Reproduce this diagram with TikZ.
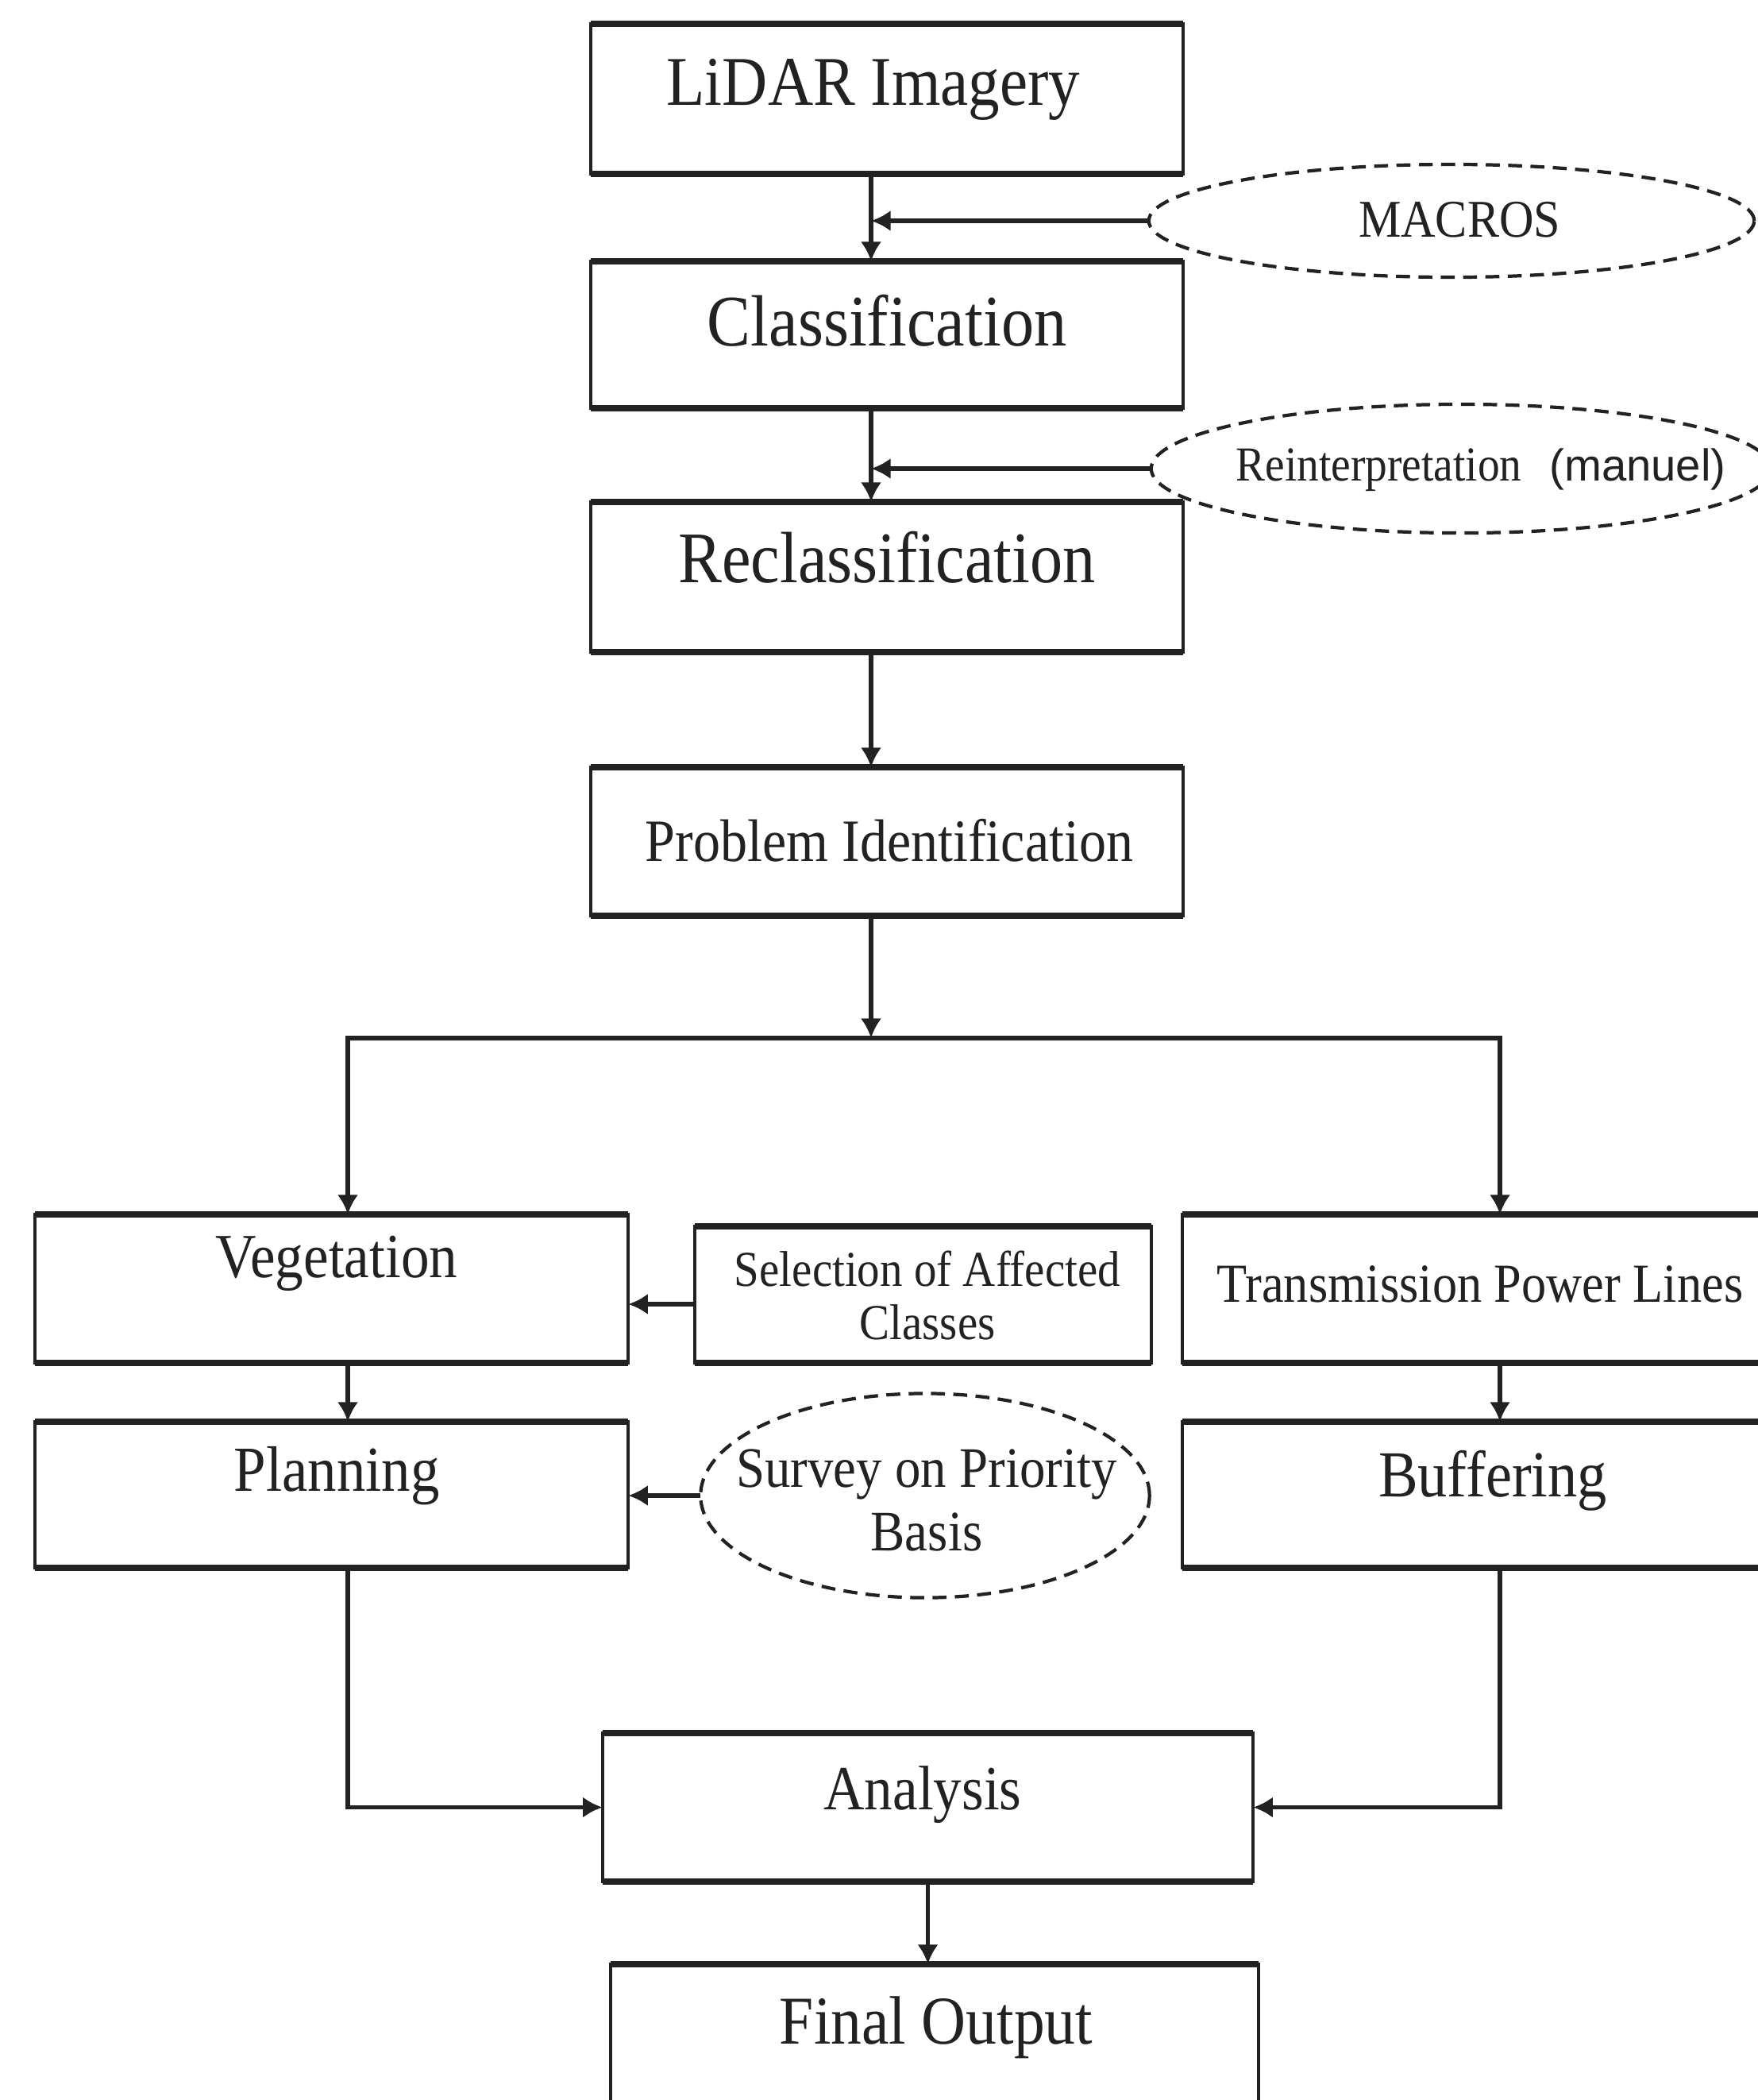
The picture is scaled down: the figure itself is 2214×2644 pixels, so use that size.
\documentclass[tikz,border=0pt]{standalone}
\usepackage{fontspec}
\setmainfont{Liberation Serif}[FakeStretch=0.9]
\newfontfamily\sansf{Liberation Sans}
\usetikzlibrary{arrows.meta,shapes.geometric,calc}
\definecolor{ink}{HTML}{222222}
\begin{document}
\begin{tikzpicture}[x=0.01cm,y=-0.01cm,
  box/.style={draw=ink, line width=1.1pt, rectangle, inner sep=0pt, outer sep=0pt},
  oval/.style={draw=ink, ellipse, line width=1.2pt, dash pattern=on 5pt off 3pt, inner sep=0pt, outer sep=0pt},
  txt/.style={text=ink, inner sep=0pt, anchor=base},
  conn/.style={draw=ink, line width=1.5pt},
  arr/.style={conn, -{Latex[length=7pt,width=7.5pt]}},
]
\fill[white] (0,0) rectangle (2214,2644);
\useasboundingbox (0,0) rectangle (2214,2644);

% boxes
\node[box, minimum width=7.46cm, minimum height=1.89cm] (lidar) at (1117,124.5) {};
\node[box, minimum width=7.46cm, minimum height=1.85cm] (classif) at (1117,421.5) {};
\node[box, minimum width=7.46cm, minimum height=1.89cm] (reclass) at (1117,726.5) {};
\node[box, minimum width=7.46cm, minimum height=1.87cm] (probid) at (1117,1059.5) {};
\node[box, minimum width=7.47cm, minimum height=1.87cm] (veg) at (417.5,1622.5) {};
\node[box, minimum width=5.75cm, minimum height=1.72cm] (sel) at (1162.5,1630) {};
\node[box, minimum width=8.11cm, minimum height=1.87cm] (trans) at (1894.5,1622.5) {};
\node[box, minimum width=7.47cm, minimum height=1.84cm] (plan) at (417.5,1882) {};
\node[box, minimum width=8.11cm, minimum height=1.84cm] (buff) at (1894.5,1882) {};
\node[box, minimum width=8.19cm, minimum height=1.87cm] (anal) at (1168.5,2275.5) {};
\node[box, minimum width=8.16cm, minimum height=2.27cm] (final) at (1177,2586.5) {};
\foreach \n in {lidar,classif,reclass,probid,veg,sel,trans,plan,buff,anal,final}
  \draw[ink, line width=2.1pt] (\n.north west) -- (\n.north east) (\n.south west) -- (\n.south east);

% dashed ellipses
\node[oval, minimum width=7.62cm, minimum height=1.42cm] (macros) at (1828,278) {};
\node[oval, minimum width=7.8cm, minimum height=1.62cm] (reint) at (1840,590) {};
\node[oval, minimum width=5.65cm, minimum height=2.57cm] (survey) at (1165,1883) {};

% texts
\node[txt, font=\fontsize{25}{30}\selectfont] (tLidar) at (1100,132) {LiDAR Imagery};
\node[txt, font=\fontsize{26}{31}\selectfont] (tClass) at (1117,435) {Classification};
\node[txt, font=\fontsize{26}{31}\selectfont] (tReclass) at (1117,733) {Reclassification};
\node[txt, font=\fontsize{21.5}{26}\selectfont] (tProb) at (1120,1084) {Problem Identification};
\node[txt, font=\fontsize{19}{23}\selectfont] (tMacros) at (1838,298) {MACROS};
\node[txt, font=\fontsize{17.5}{21}\selectfont] (tReint) at (1865,605) {Reinterpretation\hspace{10pt}{\sansf\fontsize{16}{19}\selectfont(manuel)}};
\node[txt, font=\fontsize{22.5}{27}\selectfont] (tVeg) at (424,1608) {Vegetation};
\node[txt, font=\fontsize{18}{19.3}\selectfont, align=center, anchor=center] (tSel) at (1168,1631) {Selection of Affected\\Classes};
\node[txt, font=\fontsize{19.7}{24}\selectfont] (tTrans) at (1864,1639) {Transmission Power Lines};
\node[txt, font=\fontsize{23}{28}\selectfont] (tPlan) at (424,1877) {Planning};
\node[txt, font=\fontsize{20.5}{22.8}\selectfont, align=center, anchor=center] (tSurvey) at (1167,1889) {Survey on Priority\\Basis};
\node[txt, font=\fontsize{23.5}{28}\selectfont] (tBuff) at (1880,1884) {Buffering};
\node[txt, font=\fontsize{22.5}{27}\selectfont] (tAnal) at (1162,2278) {Analysis};
\node[txt, font=\fontsize{24.5}{29}\selectfont] (tFinal) at (1179,2573) {Final Output};

% connectors
\coordinate (spine) at (1097,0);
\coordinate (xl) at (438,0);
\coordinate (xr) at (1889,0);
\coordinate (junc) at (1097,1307);
\coordinate (selA) at ($(sel.west)+(0,12)$);

\draw[arr] (lidar.south -| spine) -- (classif.north -| spine);
\draw[arr] (macros.west) -- (macros.west -| spine);
\draw[arr] (classif.south -| spine) -- (reclass.north -| spine);
\draw[arr] (reint.west) -- (reint.west -| spine);
\draw[arr] (reclass.south -| spine) -- (probid.north -| spine);
\draw[arr] (probid.south -| spine) -- (junc);
\draw[arr] (junc) -| (veg.north -| xl);
\draw[arr] (junc) -| (trans.north -| xr);
\draw[arr] (selA) -- (selA -| veg.east);
\draw[arr] (veg.south -| xl) -- (plan.north -| xl);
\draw[arr] (survey.west) -- (survey.west -| plan.east);
\draw[arr] (trans.south -| xr) -- (buff.north -| xr);
\draw[arr] (plan.south -| xl) |- (anal.west);
\draw[arr] (buff.south -| xr) |- (anal.east);
\draw[arr] (anal.south) -- (anal.south |- final.north);
\end{tikzpicture}
\end{document}
